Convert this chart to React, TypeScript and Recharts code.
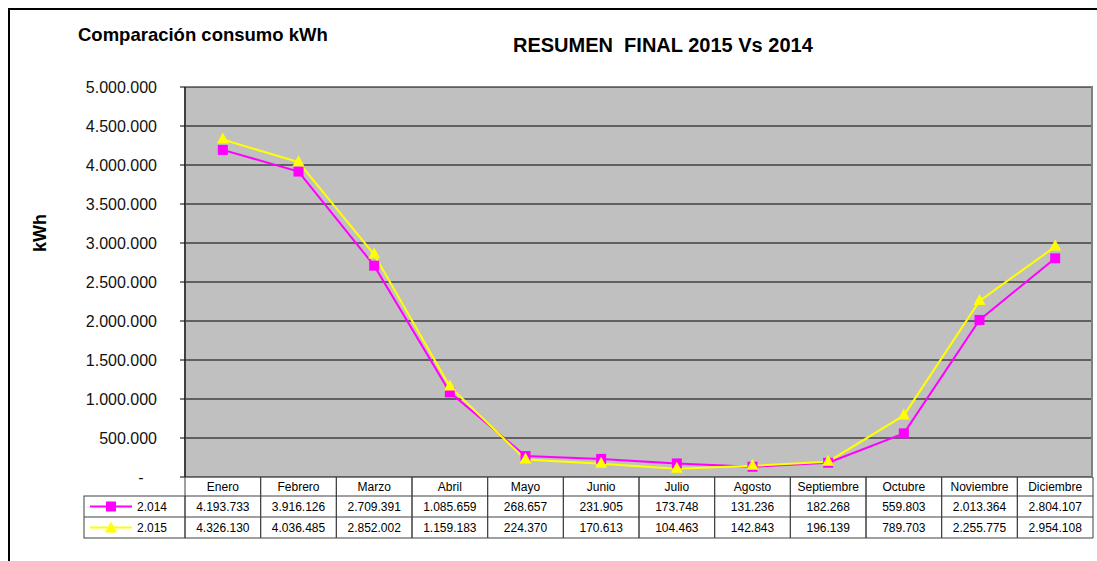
import { LineChart, Line, XAxis, YAxis, CartesianGrid } from "recharts";

const months = [
  "Enero", "Febrero", "Marzo", "Abril", "Mayo", "Junio",
  "Julio", "Agosto", "Septiembre", "Octubre", "Noviembre", "Diciembre",
];
const kwh2014 = [4193733, 3916126, 2709391, 1085659, 268657, 231905, 173748, 131236, 182268, 559803, 2013364, 2804107];
const kwh2015 = [4326130, 4036485, 2852002, 1159183, 224370, 170613, 104463, 142843, 196139, 789703, 2255775, 2954108];
const seriesNames = ["2.014", "2.015"];
const yTicks = [0, 500000, 1000000, 1500000, 2000000, 2500000, 3000000, 3500000, 4000000, 4500000, 5000000];

const data = months.map((m, i) => ({ month: m, y2014: kwh2014[i], y2015: kwh2015[i] }));

const W = 1097;
const H = 561;
const PLOT_L = 185;
const PLOT_R = 1093;
const PLOT_T = 87;
const PLOT_B = 477;
const COL_W = (PLOT_R - PLOT_L) / months.length;
const ROWS = [PLOT_B, 496, 517, 538];
const FONT = "'Liberation Sans', Arial, sans-serif";
const MAGENTA = "#FF00FF";
const YELLOW = "#FFFF00";

const fmt = (n: number) => n.toString().replace(/\B(?=(\d{3})+(?!\d))/g, ".");

function Square(props: any) {
  const { cx, cy } = props;
  if (cx == null || cy == null) return null;
  return <rect x={cx - 5} y={cy - 5} width={10} height={10} fill={MAGENTA} />;
}

function Triangle(props: any) {
  const { cx, cy } = props;
  if (cx == null || cy == null) return null;
  return <polygon points={`${cx},${cy - 7} ${cx - 6},${cy + 4} ${cx + 6},${cy + 4}`} fill={YELLOW} />;
}

function LegendCell({ row }: { row: number }) {
  const y = (ROWS[row] + ROWS[row + 1]) / 2;
  const color = row === 1 ? MAGENTA : YELLOW;
  return (
    <g>
      <line x1={90} x2={132} y1={y} y2={y} stroke={color} strokeWidth={2} />
      {row === 1 ? <Square cx={111} cy={y} /> : <Triangle cx={111} cy={y + 1} />}
      <text x={137} y={y} dominantBaseline="central" fontSize={12} fontFamily={FONT} fill="#000">
        {seriesNames[row - 1]}
      </text>
    </g>
  );
}

// each x tick draws its column of the data table under the plot
function TableTick(props: any) {
  const { x, index, payload } = props;
  const left = x - COL_W / 2;
  const right = x + COL_W / 2;
  const vals = [kwh2014[index], kwh2015[index]];
  return (
    <g>
      {index === 0 && (
        <g>
          <rect x={84} y={ROWS[1]} width={PLOT_L - 84} height={ROWS[3] - ROWS[1]} fill="none" stroke="#404040" />
          <line x1={84} x2={PLOT_L} y1={ROWS[2]} y2={ROWS[2]} stroke="#404040" />
          <LegendCell row={1} />
          <LegendCell row={2} />
        </g>
      )}
      <line x1={left} x2={left} y1={ROWS[0]} y2={ROWS[3]} stroke="#404040" />
      <line x1={right} x2={right} y1={ROWS[0]} y2={ROWS[3]} stroke="#404040" />
      <line x1={left} x2={right} y1={ROWS[1]} y2={ROWS[1]} stroke="#404040" />
      <line x1={left} x2={right} y1={ROWS[2]} y2={ROWS[2]} stroke="#404040" />
      <line x1={left} x2={right} y1={ROWS[3]} y2={ROWS[3]} stroke="#404040" />
      <text x={x} y={(ROWS[0] + ROWS[1]) / 2} textAnchor="middle" dominantBaseline="central" fontSize={12} fontFamily={FONT} fill="#000">
        {payload.value}
      </text>
      {vals.map((v, r) => (
        <text key={r} x={x} y={(ROWS[r + 1] + ROWS[r + 2]) / 2} textAnchor="middle" dominantBaseline="central" fontSize={12} fontFamily={FONT} fill="#000">
          {fmt(v)}
        </text>
      ))}
    </g>
  );
}

export default function App() {
  return (
    <div style={{ position: "fixed", left: 0, top: 0, width: W, height: H, overflow: "hidden", background: "#fff" }}>
      <div style={{ position: "absolute", left: 8, top: 8, width: W, height: H, borderTop: "2px solid #000", borderLeft: "2px solid #000" }} />
      <LineChart
        width={W}
        height={H}
        data={data}
        margin={{ top: PLOT_T, right: W - PLOT_R, bottom: 0, left: 0 }}
      >
        <CartesianGrid vertical={false} stroke="#000" fill="#C0C0C0" fillOpacity={1} />
        <CartesianGrid horizontal={false} verticalPoints={[PLOT_R - 1]} stroke="#808080" strokeWidth={2} />
        <XAxis
          dataKey="month"
          height={H - PLOT_B}
          padding={{ left: COL_W / 2, right: COL_W / 2 }}
          axisLine={false}
          tickLine={false}
          tickSize={0}
          interval={0}
          tick={<TableTick />}
        />
        <YAxis
          width={PLOT_L}
          domain={[0, 5000000]}
          ticks={yTicks}
          interval={0}
          tickSize={5}
          tickMargin={23}
          axisLine={{ stroke: "#404040", strokeWidth: 2 }}
          tickLine={{ stroke: "#000" }}
          tick={{ fontSize: 16, fontFamily: FONT, fill: "#111" }}
          tickFormatter={(v: number) => (v === 0 ? "-\u00a0\u00a0\u00a0" : fmt(v))}
        />
        <Line dataKey="y2014" stroke={MAGENTA} strokeWidth={2} dot={<Square />} activeDot={false} isAnimationActive={false} />
        <Line dataKey="y2015" stroke={YELLOW} strokeWidth={2} dot={<Triangle />} activeDot={false} isAnimationActive={false} />
      </LineChart>
      <div style={{ position: "absolute", left: 78, top: 24, fontFamily: FONT, fontWeight: "bold", fontSize: 18.5, color: "#000", whiteSpace: "nowrap" }}>
        Comparación consumo kWh
      </div>
      <div style={{ position: "absolute", left: 513, top: 34, fontFamily: FONT, fontWeight: "bold", fontSize: 20, color: "#000", whiteSpace: "pre" }}>
        {"RESUMEN  FINAL 2015 Vs 2014"}
      </div>
      <div style={{ position: "absolute", left: 40, top: 233, transform: "translate(-50%, -50%) rotate(-90deg)", fontFamily: FONT, fontWeight: "bold", fontSize: 18, color: "#000" }}>
        kWh
      </div>
    </div>
  );
}
